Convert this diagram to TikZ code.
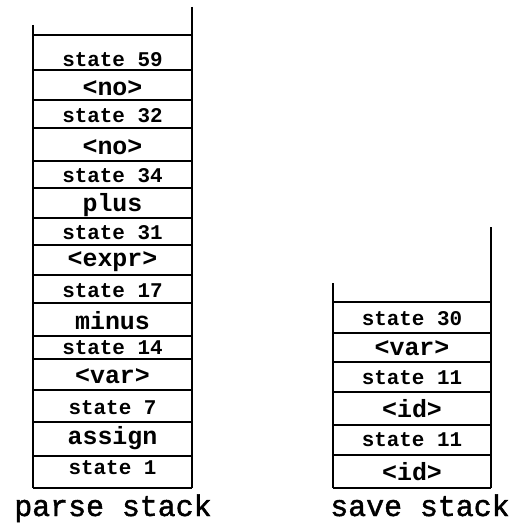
\documentclass[tikz,border=0pt]{standalone}
\usepackage{fontspec}
\setmonofont{Liberation Mono}
\newfontfamily\labfont[FakeBold=1.5]{Liberation Mono}
\begin{document}
\begin{tikzpicture}[x=1bp,y=-1bp,
  wall/.style={line width=2.2bp},
  row/.style={line width=1.5bp},
  st/.style={font=\ttfamily\bfseries\fontsize{21}{21}\selectfont, inner sep=0pt},
  sym/.style={font=\ttfamily\bfseries\fontsize{25}{25}\selectfont, inner sep=0pt},
  lab/.style={font=\labfont\fontsize{30}{30}\selectfont, inner sep=0pt, anchor=base}]
\useasboundingbox (0,0) rectangle (514,525);
% parse stack walls
\draw[wall] (33,25) -- (33,488);
\draw[wall] (192,7) -- (192,488);
\foreach \y in {35,70,100,128,161,188,218,245,275,303,336,359,390,422,456,488}
  \draw[row] (33,\y) -- (192,\y);
\node[st]  (p1)  at (112.5,60)  {state 59};
\node[sym] (p2)  at (112.5,88)  {<no>};
\node[st]  (p3)  at (112.5,116) {state 32};
\node[sym] (p4)  at (112.5,147) {<no>};
\node[st]  (p5)  at (112.5,176) {state 34};
\node[sym] (p6)  at (112.5,205) {plus};
\node[st]  (p7)  at (112.5,233) {state 31};
\node[sym] (p8)  at (112.5,262) {<expr>};
\node[st]  (p9)  at (112.5,291) {state 17};
\node[sym] (p10) at (112.5,321) {minus};
\node[st]  (p11) at (112.5,348) {state 14};
\node[sym] (p12) at (112.5,376) {<var>};
\node[st]  (p13) at (112.5,408) {state 7};
\node[sym] (p14) at (112.5,438) {assign};
\node[st]  (p15) at (112.5,468) {state 1};
\node[lab] (plab) at (113,516) {parse stack};
% save stack walls
\draw[wall] (333,283) -- (333,488);
\draw[wall] (491,227) -- (491,488);
\foreach \y in {302,333,362,392,425,455,488}
  \draw[row] (333,\y) -- (491,\y);
\node[st]  (s1) at (412,319) {state 30};
\node[sym] (s2) at (412,348) {<var>};
\node[st]  (s3) at (412,378) {state 11};
\node[sym] (s4) at (412,409) {<id>};
\node[st]  (s5) at (412,440) {state 11};
\node[sym] (s6) at (412,472) {<id>};
\node[lab] (slab) at (420,516) {save stack};
\end{tikzpicture}
\end{document}
